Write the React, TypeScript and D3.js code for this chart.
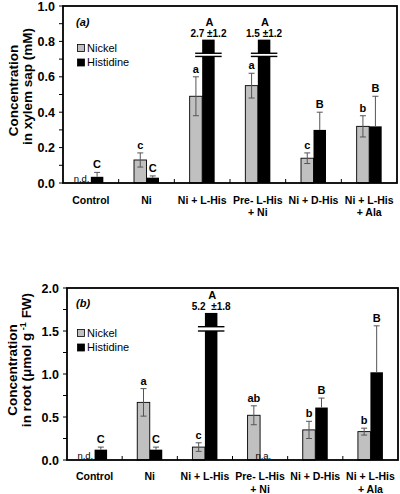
import React from "react";
import * as d3 from "d3";

// ---------- DATA ----------
const categories: string[][] = [
  ["Control"],
  ["Ni"],
  ["Ni + L-His"],
  ["Pre- L-His", "+ Ni"],
  ["Ni + D-His"],
  ["Ni + L-His", "+ Ala"],
];
const seriesNames = ["Nickel", "Histidine"];

// (a) xylem sap (mM)
const xylemNi: (number | null)[] = [null, 0.13, 0.49, 0.55, 0.14, 0.32];
const xylemNiErr: (number | null)[] = [null, 0.04, 0.11, 0.07, 0.03, 0.06];
const xylemHis: (number | null)[] = [0.035, 0.03, 2.7, 1.5, 0.3, 0.32];
const xylemHisErr: (number | null)[] = [0.025, 0.01, 1.2, 1.2, 0.1, 0.17];
const xylemNiLetters = ["", "c", "a", "a", "c", "b"];
const xylemHisLetters = ["C", "C", "A", "A", "B", "B"];
const xylemNiNotes = ["n.d.", "", "", "", "", ""];
const xylemHisNotes = ["", "", "", "", "", ""];
const xylemTicks = [0, 0.2, 0.4, 0.6, 0.8, 1.0];

// (b) root (umol g-1 FW)
const rootNi: (number | null)[] = [null, 0.67, 0.15, 0.52, 0.35, 0.33];
const rootNiErr: (number | null)[] = [null, 0.16, 0.05, 0.11, 0.1, 0.04];
const rootHis: (number | null)[] = [0.12, 0.12, 5.2, null, 0.61, 1.02];
const rootHisErr: (number | null)[] = [0.03, 0.03, 1.8, null, 0.11, 0.54];
const rootNiLetters = ["", "a", "c", "ab", "b", "b"];
const rootHisLetters = ["C", "C", "A", "", "B", "B"];
const rootNiNotes = ["n.d.", "", "", "", "", ""];
const rootHisNotes = ["", "", "", "n.a.", "", ""];
const rootTicks = [0, 0.5, 1.0, 1.5, 2.0];

const FONT = "'Liberation Sans', Arial, Helvetica, sans-serif";
const NI_FILL = "#c0c0c0";
const HIS_FILL = "#000000";
const ERR = "#555555";

type PanelProps = {
  left: number; right: number; top: number; bottom: number;
  yMax: number; ticks: number[]; minorStep: number; tickFmt: (v: number) => string;
  ni: (number | null)[]; niErr: (number | null)[];
  his: (number | null)[]; hisErr: (number | null)[];
  niLetters: string[]; hisLetters: string[];
  niNotes: string[]; hisNotes: string[];
  breakTop: number; breakLo: number; breakHi: number; breakSep: string;
  tag: string; tagY: number; legendY: number;
  title: React.ReactNode; xLabelY: number;
};

function Panel(p: PanelProps) {
  const x = d3.scaleBand<number>().domain(d3.range(categories.length)).range([p.left, p.right]);
  const y = d3.scaleLinear().domain([0, p.yMax]).range([p.bottom, p.top]);
  const bw = 12.5;
  const minor = d3.range(0, p.yMax + 1e-9, p.minorStep);
  const mid = (p.top + p.bottom) / 2;

  const bars: React.ReactNode[] = [];
  categories.forEach((_, i) => {
    const c = (x(i) as number) + x.bandwidth() / 2;
    const xs = [c - bw, c];
    const vals = [p.ni[i], p.his[i]];
    const errs = [p.niErr[i], p.hisErr[i]];
    const letters = [p.niLetters[i], p.hisLetters[i]];
    const notes = [p.niNotes[i], p.hisNotes[i]];
    const fills = [NI_FILL, HIS_FILL];
    for (let s = 0; s < 2; s++) {
      const v = vals[s];
      const bx = xs[s];
      const cx = bx + bw / 2;
      if (v == null) {
        if (notes[s])
          bars.push(
            <text key={`n${i}${s}`} x={cx - 3} y={p.bottom - 1.5} fontSize={9.5} textAnchor="middle" fontFamily={FONT}>
              {notes[s]}
            </text>
          );
        continue;
      }
      const broken = v > p.yMax;
      const dv = broken ? p.breakTop : v;
      bars.push(
        <rect key={`b${i}${s}`} x={bx} y={y(dv)} width={bw} height={p.bottom - y(dv)}
          fill={fills[s]} stroke="#000" strokeWidth={s === 0 ? 0.9 : 0} />
      );
      const e = errs[s];
      if (broken) {
        bars.push(
          <g key={`k${i}${s}`}>
            <rect x={bx - 1} y={y(p.breakHi)} width={bw + 2} height={y(p.breakLo) - y(p.breakHi)} fill="#fff" />
            <line x1={bx - 7} x2={bx + bw + 7} y1={y(p.breakHi)} y2={y(p.breakHi)} stroke="#000" strokeWidth={1.4} />
            <line x1={bx - 7} x2={bx + bw + 7} y1={y(p.breakLo)} y2={y(p.breakLo)} stroke="#000" strokeWidth={1.4} />
            <text x={cx} y={y(dv) - 2.5} fontSize={10} fontWeight="bold" textAnchor="middle" fontFamily={FONT}
              style={{ whiteSpace: "pre" }}>
              {`${v.toFixed(1)}${p.breakSep}±${(e as number).toFixed(1)}`}
            </text>
            <text x={cx + 1} y={y(dv) - 14} fontSize={11} fontWeight="bold" textAnchor="middle" fontFamily={FONT}>
              {letters[s]}
            </text>
          </g>
        );
        continue;
      }
      let topY = y(dv);
      if (e != null && e > 0) {
        const yt = y(v + e);
        const yb = s === 0 ? y(Math.max(0, v - e)) : y(v);
        topY = yt;
        bars.push(
          <g key={`e${i}${s}`} stroke={ERR} strokeWidth={1}>
            <line x1={cx} x2={cx} y1={yt} y2={yb} />
            <line x1={cx - 3} x2={cx + 3} y1={yt} y2={yt} />
            {s === 0 && <line x1={cx - 3} x2={cx + 3} y1={yb} y2={yb} />}
          </g>
        );
      }
      if (letters[s])
        bars.push(
          <text key={`l${i}${s}`} x={cx} y={topY - 4} fontSize={11} fontWeight="bold" textAnchor="middle" fontFamily={FONT}>
            {letters[s]}
          </text>
        );
    }
  });

  return (
    <g>
      {/* y ticks */}
      {minor.map((t, k) => (
        <line key={`mt${k}`} x1={p.left - 4} x2={p.left} y1={y(t)} y2={y(t)} stroke="#000" strokeWidth={1} />
      ))}
      {p.ticks.map((t) => (
        <text key={`yt${t}`} x={p.left - 8} y={y(t)} dy="0.36em" fontSize={12.5} fontWeight="bold"
          textAnchor="end" fontFamily={FONT}>
          {p.tickFmt(t)}
        </text>
      ))}
      {/* x ticks at category boundaries */}
      {d3.range(1, categories.length).map((i) => (
        <line key={`xt${i}`} x1={x(i) as number} x2={x(i) as number} y1={p.bottom} y2={p.bottom - 4}
          stroke="#000" strokeWidth={1} />
      ))}
      {bars}
      {/* frame */}
      <rect x={p.left} y={p.top} width={p.right - p.left} height={p.bottom - p.top}
        fill="none" stroke="#000" strokeWidth={1.8} />
      {/* x labels */}
      {categories.map((lines, i) => (
        <text key={`xl${i}`} x={(x(i) as number) + x.bandwidth() / 2} y={p.xLabelY} fontSize={10.5}
          fontWeight="bold" textAnchor="middle" fontFamily={FONT}>
          {lines.map((ln, j) => (
            <tspan key={j} x={(x(i) as number) + x.bandwidth() / 2} dy={j === 0 ? 0 : 12.5}>{ln}</tspan>
          ))}
        </text>
      ))}
      {/* tag */}
      <text x={76} y={p.tagY} fontSize={11} fontWeight="bold" fontStyle="italic" fontFamily={FONT}>{p.tag}</text>
      {/* legend */}
      {seriesNames.map((n, k) => (
        <g key={n}>
          <rect x={77.5} y={p.legendY + k * 14.5 - 3.5} width={7} height={7}
            fill={k === 0 ? NI_FILL : HIS_FILL} stroke="#000" strokeWidth={0.8} />
          <text x={87} y={p.legendY + k * 14.5} dy="0.36em" fontSize={11} fontFamily={FONT}>{n}</text>
        </g>
      ))}
      {/* y title */}
      <g transform={`translate(0,${mid - 4}) rotate(-90)`}>{p.title}</g>
    </g>
  );
}

export default function App() {
  return (
    <svg width={400} height={494} style={{ position: "absolute", left: 0, top: 0, background: "#fff" }}>
      <rect width={400} height={494} fill="#fff" />
      <Panel
        left={63} right={397} top={6} bottom={183}
        yMax={1.0} ticks={xylemTicks} minorStep={0.1} tickFmt={(v) => v.toFixed(1)}
        ni={xylemNi} niErr={xylemNiErr} his={xylemHis} hisErr={xylemHisErr}
        niLetters={xylemNiLetters} hisLetters={xylemHisLetters}
        niNotes={xylemNiNotes} hisNotes={xylemHisNotes}
        breakTop={0.81} breakLo={0.715} breakHi={0.733} breakSep=" "
        tag="(a)" tagY={26} legendY={48}
        xLabelY={203.5}
        title={
          <g fontFamily={FONT} fontWeight="bold" fontSize={13.5} textAnchor="middle">
            <text x={0} y={18}>Concentration</text>
            <text x={4} y={32}>in xylem sap (mM)</text>
          </g>
        }
      />
      <Panel
        left={67} right={398} top={288} bottom={460}
        yMax={2.0} ticks={rootTicks} minorStep={0.25} tickFmt={(v) => v.toFixed(1)}
        ni={rootNi} niErr={rootNiErr} his={rootHis} hisErr={rootHisErr}
        niLetters={rootNiLetters} hisLetters={rootHisLetters}
        niNotes={rootNiNotes} hisNotes={rootHisNotes}
        breakTop={1.71} breakLo={1.5} breakHi={1.55} breakSep="  "
        tag="(b)" tagY={307} legendY={333}
        xLabelY={480}
        title={
          <g fontFamily={FONT} fontWeight="bold" fontSize={13.5} textAnchor="middle">
            <text x={0} y={17}>Concentration</text>
            <text x={10} y={31}>
              in root (μmol g
              <tspan fontSize={9} dy={-5}> -1</tspan>
              <tspan dy={5}> FW)</tspan>
            </text>
          </g>
        }
      />
    </svg>
  );
}
